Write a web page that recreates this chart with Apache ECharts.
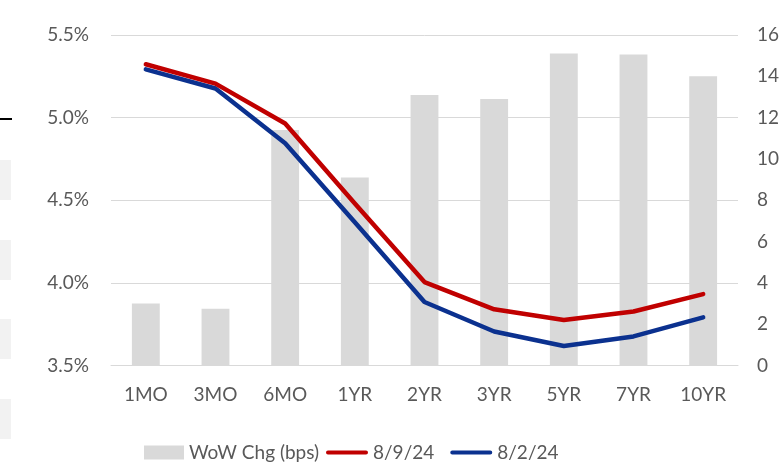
<!DOCTYPE html>
<html><head><meta charset="utf-8">
<script src="https://cdn.jsdelivr.net/npm/echarts@6/dist/echarts.min.js"></script>
<style>html,body{margin:0;padding:0;background:#fff}#c{width:784px;height:467px}</style>
</head><body><div id="c"></div>
<script>
const categories = ['1MO','3MO','6MO','1YR','2YR','3YR','5YR','7YR','10YR'];
const wowChg = [3.0, 2.75, 11.4, 9.1, 13.1, 12.9, 15.1, 15.05, 14.0];
const yield0809 = [5.323, 5.206, 4.964, 4.48, 4.005, 3.84, 3.775, 3.827, 3.932];
const yield0802 = [5.292, 5.176, 4.845, 4.367, 3.884, 3.706, 3.618, 3.676, 3.791];
const leftTicks = {min: 3.5, max: 5.5, interval: 0.5};
const rightTicks = {min: 0, max: 16, interval: 2};

const FONT = 'Lato';
const TXT = '#595959';
const LINE_ICON = 'path://M2,5 L40,5 A2,2 0 0 1 40,9 L2,9 A2,2 0 0 1 2,5 Z M0,0 L0.01,0 M0,14 L0.01,14';
const chart = echarts.init(document.getElementById('c'));
chart.setOption({
  animation: false,
  backgroundColor: '#fff',
  textStyle: {fontFamily: FONT},
  grid: {left: 111, right: 46, top: 35, bottom: 101.5},
  legend: [
    {
      left: 144, top: 443, padding: 0,
      itemWidth: 40, itemHeight: 14, itemGap: 22,
      textStyle: {color: TXT, fontSize: 19, fontFamily: FONT},
      data: [{name: 'WoW Chg (bps)', icon: 'rect'}]
    },
    {
      left: 326, top: 443, padding: 0,
      itemWidth: 42, itemHeight: 14, itemGap: 16,
      textStyle: {color: TXT, fontSize: 19, fontFamily: FONT},
      data: [
        {name: '8/9/24', icon: LINE_ICON},
        {name: '8/2/24', icon: LINE_ICON}
      ]
    }
  ],
  xAxis: {
    type: 'category', data: categories,
    axisLine: {lineStyle: {color: '#D9D9D9', width: 1}},
    axisTick: {show: false},
    axisLabel: {color: TXT, fontSize: 19, margin: 20, fontFamily: FONT}
  },
  yAxis: [
    {type: 'value', min: leftTicks.min, max: leftTicks.max, interval: leftTicks.interval,
     axisLine: {show: false}, axisTick: {show: false},
     splitLine: {lineStyle: {color: '#D9D9D9', width: 1}},
     axisLabel: {color: TXT, fontSize: 19, margin: 22, fontFamily: FONT,
       formatter: v => v.toFixed(1) + '%'}},
    {type: 'value', min: rightTicks.min, max: rightTicks.max, interval: rightTicks.interval,
     axisLine: {show: false}, axisTick: {show: false}, splitLine: {show: false},
     axisLabel: {color: TXT, fontSize: 19, margin: 19, fontFamily: FONT}}
  ],
  series: [
    {name: 'WoW Chg (bps)', type: 'bar', yAxisIndex: 1, data: wowChg,
     barWidth: '40%', itemStyle: {color: '#D9D9D9'}, z: 1},
    {name: '8/9/24', type: 'line', yAxisIndex: 0, data: yield0809,
     symbol: 'none', lineStyle: {color: '#C00000', width: 4.5, cap: 'round', join: 'round'},
     itemStyle: {color: '#C00000'}, z: 3},
    {name: '8/2/24', type: 'line', yAxisIndex: 0, data: yield0802,
     symbol: 'none', lineStyle: {color: '#0B318F', width: 4.5, cap: 'round', join: 'round'},
     itemStyle: {color: '#0B318F'}, z: 2}
  ],
  graphic: [
    {type: 'rect', shape: {x: 0, y: 118, width: 12, height: 2}, style: {fill: '#000'}},
    {type: 'rect', shape: {x: 0, y: 160, width: 11, height: 40}, style: {fill: '#F2F2F2'}},
    {type: 'rect', shape: {x: 0, y: 240, width: 11, height: 40}, style: {fill: '#F2F2F2'}},
    {type: 'rect', shape: {x: 0, y: 319, width: 11, height: 40}, style: {fill: '#F2F2F2'}},
    {type: 'rect', shape: {x: 0, y: 399, width: 11, height: 40}, style: {fill: '#F2F2F2'}}
  ]
});
</script></body></html>
